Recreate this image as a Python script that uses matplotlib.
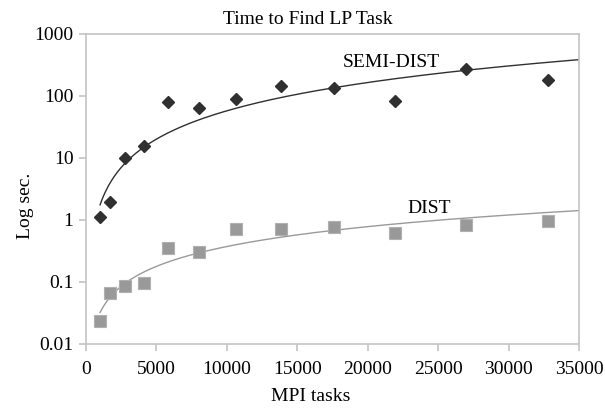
import numpy as np
import matplotlib.pyplot as plt
from matplotlib.ticker import NullLocator

# MPI task counts (cubes 10^3 .. 32^3)
mpi_tasks = [1000, 1728, 2744, 4096, 5832, 8000, 10648, 13824, 17576, 21952, 27000, 32768]

# seconds
semi_dist = [1.13, 1.93, 10.1, 15.8, 80, 65, 89, 145, 133, 84, 269, 179]
dist = [0.0235, 0.066, 0.086, 0.0975, 0.35, 0.305, 0.72, 0.72, 0.77, 0.61, 0.84, 0.975]

y_ticks = [0.01, 0.1, 1, 10, 100, 1000]
y_tick_labels = ['0.01', '0.1', '1', '10', '100', '1000']
x_ticks = [0, 5000, 10000, 15000, 20000, 25000, 30000, 35000]

plt.rcParams['font.family'] = ['Liberation Serif', 'DejaVu Serif']
plt.rcParams['font.size'] = 14

fig = plt.figure(figsize=(6.05, 4.09), dpi=100)
ax = fig.add_axes([86 / 605, 1 - 344 / 409, 493 / 605, 310 / 409])


def power_trend(x, y, x_end):
    # Excel style power trendline: least squares in log-log space
    b, a = np.polyfit(np.log(x), np.log(y), 1)
    xs = np.linspace(min(x), x_end, 300)
    return xs, np.exp(a) * xs ** b


xs, ys = power_trend(mpi_tasks, semi_dist, 35000)
ax.plot(xs, ys, color='#303030', linewidth=1.0, zorder=2)
xs, ys = power_trend(mpi_tasks, dist, 35000)
ax.plot(xs, ys, color='#9a9a9a', linewidth=1.0, zorder=2)

ax.plot(mpi_tasks, semi_dist, linestyle='none', marker='D', markersize=6.6,
        color='#303030', markeredgecolor='#303030', zorder=3)
ax.plot(mpi_tasks, dist, linestyle='none', marker='s', markersize=9,
        color='#999999', markeredgecolor='#b0b0b0', markeredgewidth=0.8, zorder=3)

ax.text(18200, 344, 'SEMI-DIST', ha='left', va='center', fontsize=14)
ax.text(22830, 1.56, 'DIST', ha='left', va='center', fontsize=14)

ax.set_yscale('log')
ax.set_xlim(0, 35000)
ax.set_ylim(0.01, 1000)
ax.set_xticks(x_ticks)
ax.set_xticklabels([str(t) for t in x_ticks])
ax.set_yticks(y_ticks)
ax.set_yticklabels(y_tick_labels)
ax.yaxis.set_minor_locator(NullLocator())

for s in ax.spines.values():
    s.set_color('#c4c4c4')
    s.set_linewidth(1.2)
ax.tick_params(axis='both', which='major', direction='out', length=5,
               width=1.2, color='#c4c4c4', labelsize=14)
ax.tick_params(axis='x', pad=7)
ax.tick_params(axis='y', pad=4)

ax.set_title('Time to Find LP Task', fontsize=14, x=0.45, pad=7)
ax.set_xlabel('MPI tasks', fontsize=14)
ax.xaxis.set_label_coords(0.455, -0.142)
ax.set_ylabel('Log sec.', fontsize=14)
ax.yaxis.set_label_coords(-0.106, 0.445)

fig.savefig('out.png', dpi=100)
